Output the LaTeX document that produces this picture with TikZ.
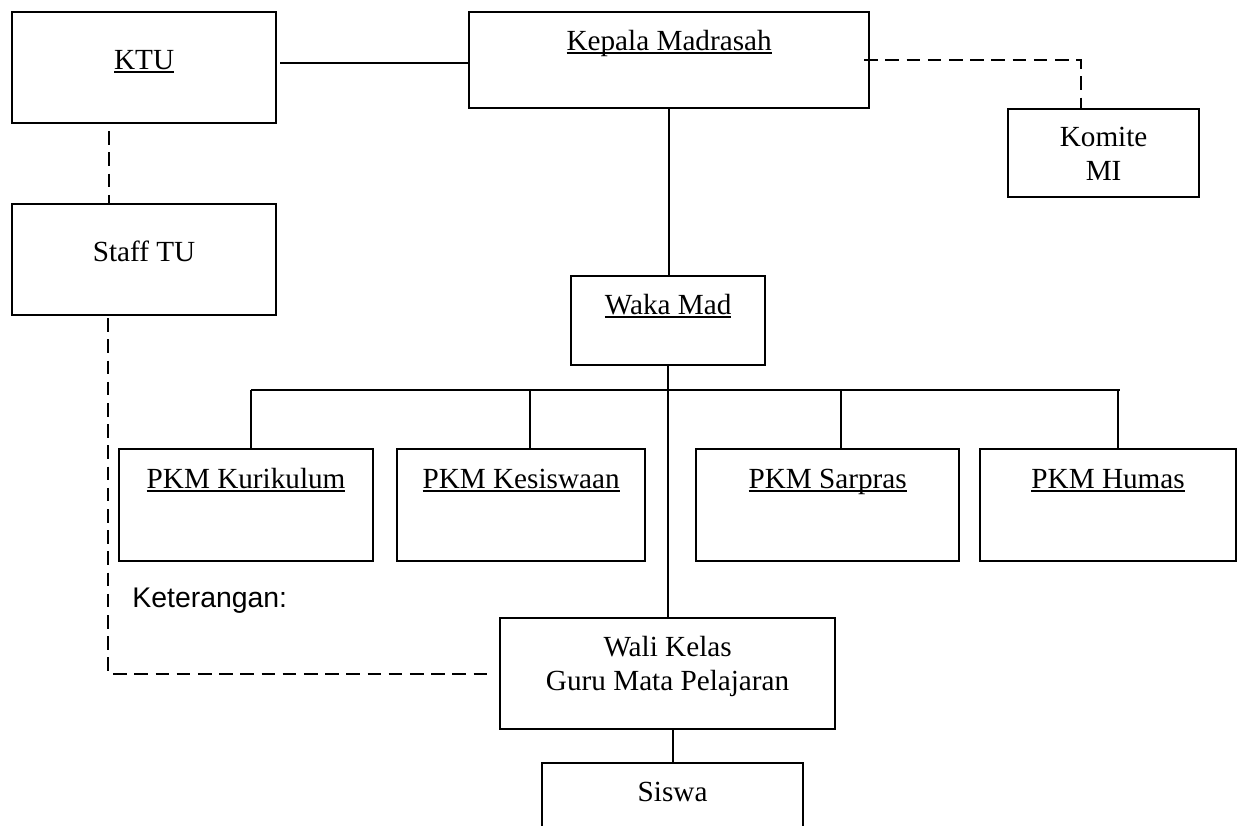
\documentclass[tikz,border=0pt]{standalone}
\usepackage{fontspec}
\setmainfont{Liberation Serif}
\newfontfamily\arialfont{Liberation Sans}
\newsavebox\ulbox
\newcommand\undl[1]{\sbox\ulbox{#1}\rlap{\rule[-1.9pt]{\wd\ulbox}{0.8pt}}\usebox\ulbox}
\tikzset{
  orgbox/.style n args={3}{draw, line width=1.1pt, inner sep=0pt, anchor=north west,
    minimum width=#1, text height=#2, text depth=#3},
  link/.style={line width=0.95pt},
  dashlink/.style={line width=1pt, dash pattern=on 6.8pt off 3.8pt},
}
\begin{document}
\begin{tikzpicture}[x=0.5pt,y=-0.5pt,line cap=butt,
    font=\fontsize{14.6}{17}\selectfont]
  \clip (0,0) rectangle (1237,825);
  % boxes
  \node[orgbox={132pt}{28.5pt}{27pt}] (ktu) at (11,11) {\undl{KTU}};
  \node[orgbox={132pt}{28.5pt}{27pt}] (staff) at (11,203) {Staff TU};
  \node[orgbox={200pt}{19pt}{29pt}] (kepala) at (468,11) {\undl{Kepala Madrasah}};
  \node[orgbox={95.5pt}{18.5pt}{25.5pt}] (komite) at (1007,108)
    {\begin{tabular}[t]{@{}c@{}}Komite\\ MI\end{tabular}};
  \node[orgbox={97pt}{19pt}{25.5pt}] (waka) at (570,275) {\undl{Waka Mad}};
  \node[orgbox={127pt}{19.5pt}{36.5pt}] (kur) at (118,448) {\undl{PKM Kurikulum}};
  \node[orgbox={124pt}{19.5pt}{36.5pt}] (kes) at (396,448) {\undl{PKM Kesiswaan}};
  \node[orgbox={131.5pt}{19.5pt}{36.5pt}] (sar) at (695,448) {\undl{PKM Sarpras}};
  \node[orgbox={128pt}{19.5pt}{36.5pt}] (hum) at (979,448) {\undl{PKM Humas}};
  \node[orgbox={167.5pt}{19pt}{36.5pt}] (wali) at (499,617)
    {\begin{tabular}[t]{@{}c@{}}Wali Kelas\\ Guru Mata Pelajaran\end{tabular}};
  \node[orgbox={130.5pt}{19pt}{45pt}] (siswa) at (541,762) {Siswa};
  \node[anchor=base west, inner sep=0pt, font=\arialfont\fontsize{14.2}{17}\selectfont]
    (ket) at (132,607) {Keterangan:};

  % solid lines
  \coordinate (bar) at (667,390);
  \draw[link] (ktu.east) ++(3,-4.5) coordinate (kk) -- (kk -| kepala.west);
  \draw[link] (kepala.south) -- (kepala.south |- waka.north);
  \draw[link] (waka.south) -- (waka.south |- wali.north);
  \foreach \n/\d in {kur/5, kes/9, sar/13.5, hum/10}
    \draw[link] (\n.north) ++(\d,0) coordinate (t\n) -- (t\n |- bar);
  \draw[link] (tkur |- bar) -- ([xshift=1pt]thum |- bar);
  \draw[link] (siswa.north |- wali.south) -- (siswa.north);

  % dashed lines
  \draw[dashlink] (ktu.south) ++(-35,7) coordinate (kd) -- (kd |- staff.north);
  \draw[dashlink] (staff.south) ++(-36,2) |- ([xshift=-3.5pt]wali.west);
  \draw[dashlink] ([xshift=-3pt]kepala.east) -| ([xshift=-11.25pt]komite.north);
\end{tikzpicture}
\end{document}
